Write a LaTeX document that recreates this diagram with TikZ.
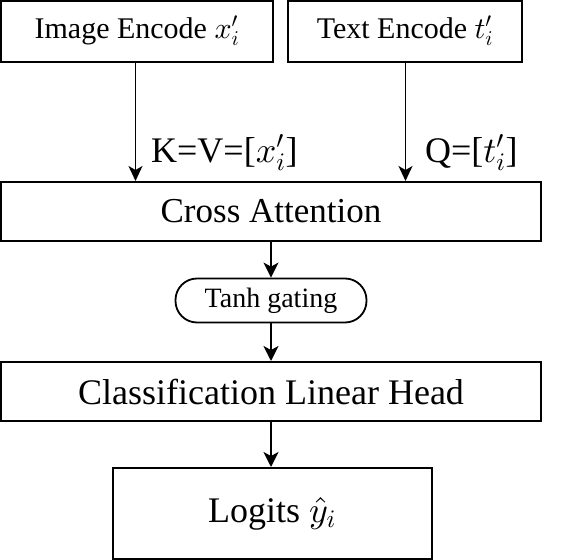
\documentclass[tikz,border=0pt]{standalone}
\usepackage{fontspec}
\setmainfont{Liberation Serif}
\DeclareFontShape{OML}{cmm}{m}{it}{<-> cmmi10}{}
\DeclareFontShape{OMS}{cmsy}{m}{n}{<-> cmsy10}{}
\DeclareFontShape{OT1}{cmr}{m}{n}{<-> cmr10}{}
\usetikzlibrary{arrows.meta,calc}
\tikzset{
  box/.style={draw, line width=2pt, inner sep=0pt, align=center},
  pill/.style={draw, line width=1.8pt, rounded corners=21.5pt, inner sep=0pt},
  thinarr/.style={line width=1.3pt, -{Stealth[length=15pt,width=14pt,inset=4pt]}},
  arr/.style={line width=2pt, -{Stealth[length=15pt,width=15pt,inset=4pt]}},
  lbl/.style={inner sep=0pt, anchor=base west}
}
\begin{document}
\begin{tikzpicture}[x=1pt,y=-1pt]
\useasboundingbox (0,0) rectangle (582,560);
\node[box, minimum width=272pt, minimum height=61pt, font=\fontsize{30}{36}\selectfont] (img) at (137,31) {Image Encode $x'_i$};
\node[box, minimum width=234pt, minimum height=61pt, font=\fontsize{30}{36}\selectfont] (txt) at (405,31) {Text Encode $t'_i$};
\node[box, minimum width=540pt, minimum height=59pt, font=\fontsize{35}{42}\selectfont] (ca) at (271,211.5) {Cross Attention};
\node[pill, minimum width=191pt, minimum height=44pt, font=\fontsize{28}{33}\selectfont] (tanh) at (271,300.5) {Tanh gating};
\node[box, minimum width=540pt, minimum height=59pt, font=\fontsize{36}{43}\selectfont] (cls) at (271,391.5) {Classification Linear Head};
\node[box, minimum width=319pt, minimum height=91pt, font=\fontsize{36}{43}\selectfont] (log) at (272,513.5) {Logits $\hat{y}_i$};
\coordinate (ia) at (135.5,61);
\coordinate (ta) at (405.5,61);
\draw[thinarr] (ia) -- (ia |- ca.north);
\draw[thinarr] (ta) -- (ta |- ca.north);
\node[lbl, font=\fontsize{36}{43}\selectfont] (kv) at (151,162) {K=V=[$x'_i$]};
\node[lbl, font=\fontsize{36}{43}\selectfont] (q) at (425,162) {Q=[$t'_i$]};
\draw[arr] (ca.south) -- (tanh.north);
\draw[arr] (tanh.south) -- (cls.north);
\draw[arr] (cls.south) -- (cls.south |- log.north);
\end{tikzpicture}
\end{document}
